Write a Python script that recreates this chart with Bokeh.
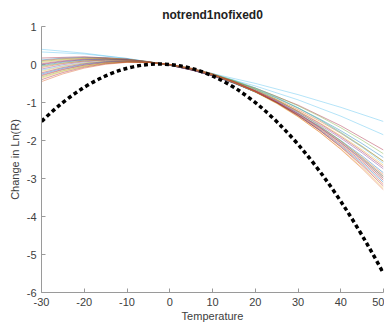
from bokeh.plotting import figure
from bokeh.models import Range1d, FixedTicker, ColumnDataSource
from bokeh.embed import file_html
from bokeh.resources import INLINE

# Reference x positions of the curves (start, middle, end)
x_start = -30
x_mid = 10
x_end = 50

# Thin coloured curves: value at x=-30, x=10, x=50
curve_left = [0.40, 0.33, 0.17, 0.12, 0.10, 0.08, 0.05, 0.02, 0.00, -0.03, -0.05, -0.08,
              -0.12, -0.15, -0.18, -0.22, -0.25, -0.28, -0.30, -0.33, -0.36, -0.40, -0.45]
curve_mid = [-0.24, -0.26, -0.27, -0.28, -0.29, -0.26, -0.29, -0.30, -0.29, -0.30, -0.26, -0.29,
             -0.29, -0.24, -0.28, -0.28, -0.28, -0.26, -0.27, -0.24, -0.27, -0.25, -0.25]
curve_right = [-1.50, -1.85, -2.25, -2.45, -2.55, -2.35, -2.65, -2.75, -2.70, -2.85, -2.55, -2.90,
               -2.95, -2.60, -3.00, -3.05, -3.10, -3.00, -3.15, -2.95, -3.25, -3.20, -3.30]
curve_colors = ["#4DBEEE", "#4DBEEE", "#A2142F", "#0072BD", "#D95319", "#77AC30", "#EDB120",
                "#7E2F8E", "#A2142F", "#0072BD", "#77AC30", "#D95319", "#7E2F8E", "#4DBEEE",
                "#EDB120", "#A2142F", "#0072BD", "#7E2F8E", "#D95319", "#77AC30", "#EDB120",
                "#A2142F", "#D95319"]

# Thick black dotted curve
black_left = -1.5
black_mid = -0.3
black_right = -5.5

x_ticks = [-30, -20, -10, 0, 10, 20, 30, 40, 50]
y_ticks = [-6, -5, -4, -3, -2, -1, 0, 1]

FONT = "Liberation Sans"
TXT = "#404040"
AX = "#9a9a9a"

p = figure(width=384, height=327, output_backend="svg", toolbar_location=None,
           x_range=Range1d(-30, 50), y_range=Range1d(-6, 1),
           min_border_left=41, min_border_right=1, min_border_top=21, min_border_bottom=35,
           title="notrend1nofixed0")
p.title.align = "center"
p.title.text_font = FONT
p.title.text_font_size = "12px"
p.title.text_font_style = "bold"
p.title.text_color = "#222222"
p.outline_line_color = None
p.background_fill_color = "white"
p.border_fill_color = "white"
p.xgrid.visible = False
p.ygrid.visible = False

n = len(curve_left)
src = ColumnDataSource(dict(
    x0=[x_start] * n, y0=curve_left,
    x1=[x_end] * n, y1=curve_right,
    cx=[x_mid] * n,
    cy=[2 * m - (a + b) / 2 for a, m, b in zip(curve_left, curve_mid, curve_right)],
    color=curve_colors,
))
p.quadratic(x0="x0", y0="y0", x1="x1", y1="y1", cx="cx", cy="cy", source=src,
            line_color="color", line_width=0.7, line_alpha=0.6)

bsrc = ColumnDataSource(dict(x0=[x_start], y0=[black_left], x1=[x_end], y1=[black_right],
                             cx=[x_mid], cy=[2 * black_mid - (black_left + black_right) / 2]))
p.quadratic(x0="x0", y0="y0", x1="x1", y1="y1", cx="cx", cy="cy", source=bsrc,
            line_color="black", line_width=3.5, line_dash="4 3")

for ax in (p.xaxis[0], p.yaxis[0]):
    ax.major_tick_in = 4
    ax.major_tick_out = 0
    ax.minor_tick_in = 0
    ax.minor_tick_out = 0
    ax.axis_line_color = AX
    ax.major_tick_line_color = AX
    ax.major_label_text_font = FONT
    ax.major_label_text_font_size = "11px"
    ax.major_label_text_color = TXT
    ax.axis_label_text_font = FONT
    ax.axis_label_text_font_size = "11px"
    ax.axis_label_text_font_style = "normal"
    ax.axis_label_text_color = TXT
    ax.major_label_standoff = 5

p.xaxis.ticker = FixedTicker(ticks=x_ticks)
p.yaxis.ticker = FixedTicker(ticks=y_ticks)
p.xaxis.major_label_overrides = {t: str(t) for t in x_ticks}
p.yaxis.major_label_overrides = {t: str(t) for t in y_ticks}
p.xaxis.axis_label = "Temperature"
p.yaxis.axis_label = "Change in Ln(R)"
p.xaxis.axis_label_standoff = 1
p.yaxis.axis_label_standoff = 3

open("out.html", "w").write(file_html(p, INLINE))
